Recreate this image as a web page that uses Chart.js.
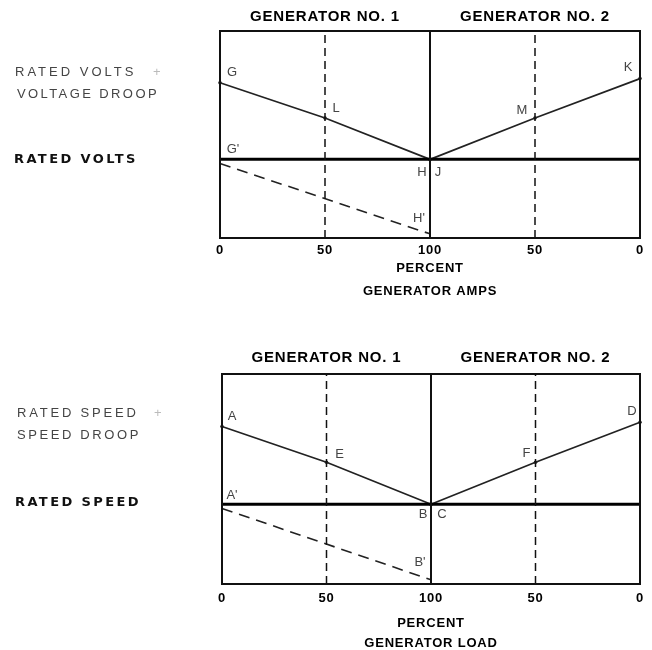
<!DOCTYPE html>
<html>
<head>
<meta charset="utf-8">
<script src="https://cdn.jsdelivr.net/npm/chart.js@4.4.1/dist/chart.umd.min.js"></script>
<style>
  html, body { margin: 0; padding: 0; background: #fff; overflow: hidden; }
  .panel { position: absolute; left: 0; width: 652px; }
  #p1 { top: 0; height: 308px; }
  #p2 { top: 308px; height: 350px; }
</style>
</head>
<body>
<div class="panel" id="p1"><canvas id="c1"></canvas></div>
<div class="panel" id="p2"><canvas id="c2"></canvas></div>
<script>
// x runs 0..100 for generator 1, then on to 200 for generator 2 (labelled back down to 0)
const xSpan = [0, 200];
const xTicks = [0, 50, 100, 150, 200];
const xTickLabels = ['0', '50', '100', '50', '0'];
const genTicks = [50, 150];
const genTitles = ['GENERATOR NO. 1', 'GENERATOR NO. 2'];
const dividerX = 100;
const halfX = [50, 150];
const yRange = [0, 100];

// top diagram - volts
const voltsX1 = [0, 50, 100];
const voltsGen1 = [75, 58, 38];
const voltsX2 = [100, 150, 200];
const voltsGen2 = [38, 58, 77];
const voltsRated = 38;
const voltsShiftX = [0, 100];
const voltsShift = [36, 2];
const voltsLetters = ['G', 'L', 'H', 'J', 'K', 'M', "G'", "H'"];
const voltsLetterX = [0, 50, 100, 100, 200, 150, 0, 100];
const voltsLetterY = [75, 58, 38, 38, 77, 58, 38, 2];

// bottom diagram - speed
const speedX1 = [0, 50, 100];
const speedGen1 = [75, 58, 38];
const speedX2 = [100, 150, 200];
const speedGen2 = [38, 58, 77];
const speedRated = 38;
const speedShiftX = [0, 100];
const speedShift = [36, 2];
const speedLetters = ['A', 'E', 'B', 'C', 'D', 'F', "A'", "B'"];
const speedLetterX = [0, 50, 100, 100, 200, 150, 0, 100];
const speedLetterY = [75, 58, 38, 38, 77, 58, 38, 2];

const pts = (xs, ys) => xs.map((x, i) => ({ x: x, y: ys[i] }));

const LIGHT = '13px "Liberation Sans"';
const BOLD = 'bold 13px "DejaVu Sans"';

const sideText = {
  id: 'sideText',
  beforeDraw(chart) {
    // the lettering on the drawing is spaced out a little
    chart.ctx.letterSpacing = '0.8px';
  },
  afterDraw(chart, args, o) {
    const ctx = chart.ctx;
    const a = chart.chartArea;
    const xs = chart.scales.x, ys = chart.scales.y;
    ctx.save();
    ctx.lineWidth = 2;
    ctx.strokeStyle = '#111';
    ctx.strokeRect(a.left, a.top, a.right - a.left, a.bottom - a.top);

    ctx.textBaseline = 'middle';
    o.notes.forEach(n => {
      ctx.font = n.font;
      ctx.fillStyle = n.color;
      ctx.letterSpacing = n.spacing;
      ctx.textAlign = 'left';
      ctx.fillText(n.text, n.x, n.y);
    });

    ctx.font = '13px "Liberation Sans"';
    ctx.fillStyle = '#444';
    ctx.letterSpacing = '0px';
    ctx.textAlign = 'center';
    o.letters.forEach((t, i) => {
      const px = xs.getPixelForValue(o.lx[i]) + o.off[i][0];
      const py = ys.getPixelForValue(o.ly[i]) + o.off[i][1];
      ctx.fillText(t, px, py);
    });
    ctx.restore();
  }
};

function makePanel(id, cfg) {
  const tickFont = { family: 'Liberation Sans', weight: 'bold', size: 13 };
  return new Chart(document.getElementById(id), {
    type: 'line',
    data: {
      datasets: [
        { data: pts([dividerX, dividerX], yRange), borderColor: '#111', borderWidth: 2 },
        { data: pts([halfX[0], halfX[0]], yRange), borderColor: '#111', borderWidth: 1.5, borderDash: [8, 5] },
        { data: pts([halfX[1], halfX[1]], yRange), borderColor: '#111', borderWidth: 1.5, borderDash: [8, 5] },
        { data: pts(xSpan, [cfg.rated, cfg.rated]), borderColor: '#000', borderWidth: 3 },
        { data: pts(cfg.x1, cfg.gen1), borderColor: '#222', borderWidth: 1.7, pointRadius: 1.8 },
        { data: pts(cfg.x2, cfg.gen2), borderColor: '#222', borderWidth: 1.7, pointRadius: 1.8 },
        { data: pts(cfg.shiftX, cfg.shift), borderColor: '#222', borderWidth: 1.6, borderDash: [11, 7] }
      ]
    },
    options: {
      responsive: true,
      maintainAspectRatio: false,
      animation: false,
      events: [],
      layout: { padding: { left: cfg.left, right: 12, top: 0, bottom: 0 } },
      datasets: { line: { pointRadius: 0, fill: false, tension: 0, clip: false, pointBackgroundColor: '#222', pointBorderWidth: 0 } },
      plugins: {
        legend: { display: false },
        tooltip: { enabled: false },
        sideText: { notes: cfg.notes, letters: cfg.letters, lx: cfg.lx, ly: cfg.ly, off: cfg.off }
      },
      scales: {
        x: {
          type: 'linear', min: xSpan[0], max: xSpan[1], position: 'bottom',
          afterBuildTicks: s => { s.ticks = xTicks.map(v => ({ value: v })); },
          afterFit: s => { s.height = cfg.bottomH; },
          grid: { display: false, drawTicks: false },
          border: { display: false },
          ticks: {
            padding: cfg.tickPad, color: '#000', font: tickFont, maxRotation: 0, autoSkip: false,
            callback: v => xTickLabels[xTicks.indexOf(v)]
          },
          title: {
            display: true, text: ['PERCENT', cfg.axisName], color: '#000',
            font: { family: 'Liberation Sans', weight: 'bold', size: 13, lineHeight: cfg.titleLH + 'px' },
            padding: { top: 0, bottom: cfg.titlePad }
          }
        },
        x2: {
          type: 'linear', min: xSpan[0], max: xSpan[1], position: 'top',
          afterBuildTicks: s => { s.ticks = genTicks.map(v => ({ value: v })); },
          afterFit: s => { s.height = cfg.topH; },
          grid: { display: false, drawTicks: false },
          border: { display: false },
          ticks: {
            padding: cfg.genPad, color: '#000', font: { family: 'Liberation Sans', weight: 'bold', size: 15 },
            maxRotation: 0, autoSkip: false,
            callback: v => genTitles[genTicks.indexOf(v)]
          }
        },
        y: { type: 'linear', min: yRange[0], max: yRange[1], display: false }
      }
    },
    plugins: [sideText]
  });
}

makePanel('c1', {
  left: 220, topH: 31, bottomH: 70, tickPad: 5, genPad: 5, titleLH: 23, titlePad: 5,
  axisName: 'GENERATOR AMPS', rated: voltsRated,
  x1: voltsX1, gen1: voltsGen1, x2: voltsX2, gen2: voltsGen2, shiftX: voltsShiftX, shift: voltsShift,
  letters: voltsLetters, lx: voltsLetterX, ly: voltsLetterY,
  off: [[12, -10], [11, -10], [-8, 13], [8, 13], [-12, -11], [-13, -8], [13, -10], [-11, -15]],
  notes: [
    { text: 'RATED VOLTS', x: 15, y: 72, font: LIGHT, color: '#444', spacing: '3px' },
    { text: '+', x: 153, y: 72, font: LIGHT, color: '#bbb', spacing: '0px' },
    { text: 'VOLTAGE DROOP', x: 17, y: 94, font: LIGHT, color: '#444', spacing: '2.4px' },
    { text: 'RATED VOLTS', x: 14, y: 160, font: BOLD, color: '#111', spacing: '2.4px' }
  ]
});

makePanel('c2', {
  left: 222, topH: 66, bottomH: 74, tickPad: 7, genPad: 7, titleLH: 20, titlePad: 5,
  axisName: 'GENERATOR LOAD', rated: speedRated,
  x1: speedX1, gen1: speedGen1, x2: speedX2, gen2: speedGen2, shiftX: speedShiftX, shift: speedShift,
  letters: speedLetters, lx: speedLetterX, ly: speedLetterY,
  off: [[10, -10], [13, -8], [-8, 10], [11, 10], [-8, -11], [-9, -9], [10, -9], [-11, -17]],
  notes: [
    { text: 'RATED SPEED', x: 17, y: 105, font: LIGHT, color: '#444', spacing: '2.8px' },
    { text: '+', x: 154, y: 105, font: LIGHT, color: '#bbb', spacing: '0px' },
    { text: 'SPEED DROOP', x: 17, y: 127, font: LIGHT, color: '#444', spacing: '2.6px' },
    { text: 'RATED SPEED', x: 15, y: 195, font: BOLD, color: '#111', spacing: '2.4px' }
  ]
});
</script>
</body>
</html>
